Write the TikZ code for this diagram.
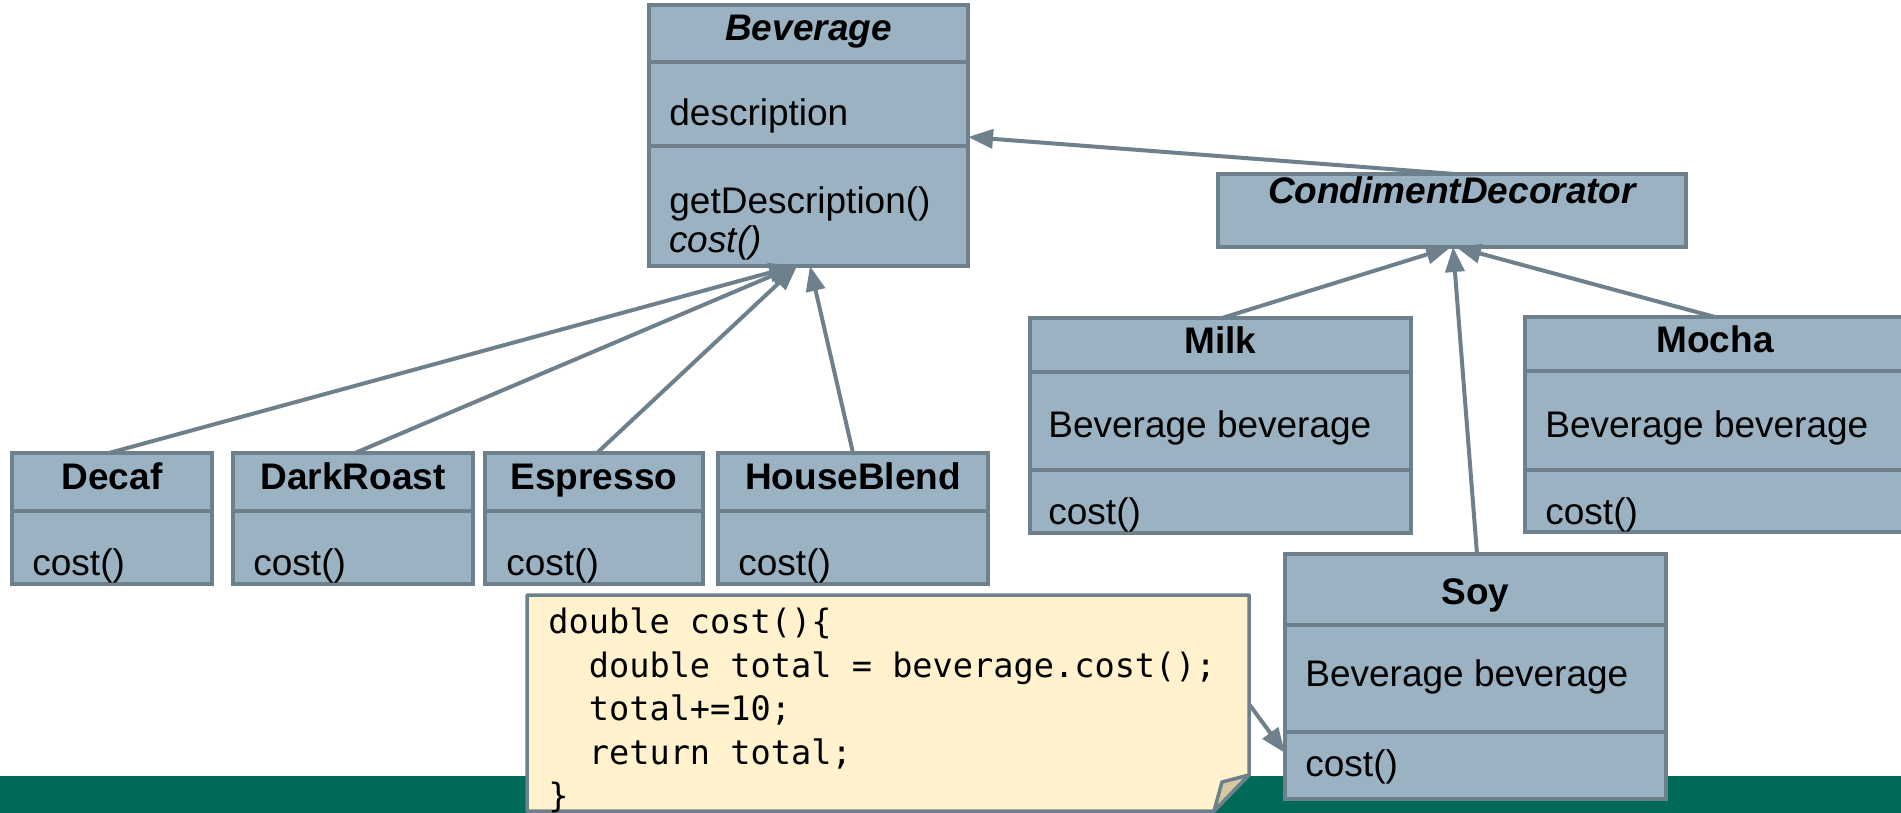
\documentclass[tikz,border=0pt]{standalone}
\usepackage{fontspec}
\setmainfont{Liberation Sans}
\newfontfamily\codefont{DejaVu Sans Mono}
\usetikzlibrary{arrows.meta}
\definecolor{boxfill}{RGB}{154,178,194}
\definecolor{boxline}{RGB}{110,128,139}
\definecolor{notefill}{RGB}{255,242,204}
\definecolor{flapfill}{RGB}{214,200,162}
\definecolor{band}{RGB}{0,106,88}
\begin{document}
\begin{tikzpicture}[x=0.5pt,y=-0.5pt,
  umlbox/.style={draw=boxline,fill=boxfill,line width=1.75pt,anchor=north west,inner sep=0pt,outer sep=0pt},
  txt/.style={font=\fontsize{18.5}{22}\selectfont,inner sep=0pt,anchor=west},
  ttl/.style={font=\fontsize{18.5}{22}\selectfont\bfseries,inner sep=0pt,anchor=base},
  ittl/.style={font=\fontsize{18.5}{22}\selectfont\bfseries\itshape,inner sep=0pt,anchor=base},
  code/.style={font=\codefont\fontsize{16.8}{22}\selectfont,inner sep=0pt,anchor=base west},
  divider/.style={draw=boxline,line width=1.75pt},
  inherit/.style={draw=boxline,line width=2pt,-{Triangle[length=12.5pt,width=9.5pt]}}]

\useasboundingbox (0,0) rectangle (1901,813);
\fill[band] (0,776) rectangle (1901,813);

% Beverage
\node[umlbox,minimum width=159.5pt,minimum height=130.5pt] (bev) at (649,5) {};
\draw[divider] (bev.west |- 0,62) -- (bev.east |- 0,62);
\draw[divider] (bev.west |- 0,146) -- (bev.east |- 0,146);
\node[ittl] (bevt) at (bev.north |- 0,41) {Beverage};
\node[txt] (beva) at (669,116) {description};
\node[txt] (bevm1) at (669,204) {getDescription()};
\node[txt,font=\fontsize{18.5}{22}\selectfont\itshape] (bevm2) at (669,243) {cost()};

% CondimentDecorator
\node[umlbox,minimum width=234pt,minimum height=36.5pt] (cd) at (1218,174) {};
\node[ittl] (cdt) at (cd.north |- 0,203) {CondimentDecorator};

% Milk
\node[umlbox,minimum width=190.5pt,minimum height=107.5pt] (milk) at (1030,318) {};
\draw[divider] (milk.west |- 0,372) -- (milk.east |- 0,372);
\draw[divider] (milk.west |- 0,470) -- (milk.east |- 0,470);
\node[ttl] (milkt) at (milk.north |- 0,353) {Milk};
\node[txt] (milka) at (1048,428) {Beverage beverage};
\node[txt] (milkm) at (1048,515) {cost()};

% Mocha
\node[umlbox,minimum width=190pt,minimum height=107.5pt] (mocha) at (1525,317) {};
\draw[divider] (mocha.west |- 0,371) -- (mocha.east |- 0,371);
\draw[divider] (mocha.west |- 0,470) -- (mocha.east |- 0,470);
\node[ttl] (mochat) at (mocha.north |- 0,352) {Mocha};
\node[txt] (mochaa) at (1545,428) {Beverage beverage};
\node[txt] (mocham) at (1545,515) {cost()};

% Soy
\node[umlbox,minimum width=190.5pt,minimum height=122.5pt] (soy) at (1285,554) {};
\draw[divider] (soy.west |- 0,625) -- (soy.east |- 0,625);
\draw[divider] (soy.west |- 0,732) -- (soy.east |- 0,732);
\node[ttl] (soyt) at (soy.north |- 0,604) {Soy};
\node[txt] (soya) at (1305,677) {Beverage beverage};
\node[txt] (soym) at (1305,767) {cost()};

% bottom row
\node[umlbox,minimum width=100pt,minimum height=65.5pt] (decaf) at (12,453) {};
\draw[divider] (decaf.west |- 0,511) -- (decaf.east |- 0,511);
\node[ttl] (decaft) at (decaf.north |- 0,489) {Decaf};
\node[txt] (decafm) at (32,566) {cost()};

\node[umlbox,minimum width=120pt,minimum height=65.5pt] (dark) at (233,453) {};
\draw[divider] (dark.west |- 0,511) -- (dark.east |- 0,511);
\node[ttl] (darkt) at (dark.north |- 0,489) {DarkRoast};
\node[txt] (darkm) at (253,566) {cost()};

\node[umlbox,minimum width=109pt,minimum height=65.5pt] (esp) at (485,453) {};
\draw[divider] (esp.west |- 0,511) -- (esp.east |- 0,511);
\node[ttl] (espt) at (esp.north |- 0,489) {Espresso};
\node[txt] (espm) at (506,566) {cost()};

\node[umlbox,minimum width=135pt,minimum height=65.5pt] (house) at (718,453) {};
\draw[divider] (house.west |- 0,511) -- (house.east |- 0,511);
\node[ttl] (houset) at (house.north |- 0,489) {HouseBlend};
\node[txt] (housem) at (738,566) {cost()};

% inheritance arrows
\draw[inherit] (decaf.north -| 109,0) -- (bev.south -| 794,0);
\draw[inherit] (dark.north -| 355,0) -- (bev.south -| 795,0);
\draw[inherit] (esp.north -| 597,0) -- (bev.south -| 797,0);
\draw[inherit] (house.north -| 853,0) -- (bev.south -| 810,0);
\draw[inherit] (cd.north -| 1455,0) -- (bev.east |- 0,137);
\draw[inherit] (milk.north -| 1222,0) -- (cd.south -| 1451,0);
\draw[inherit] (soy.north -| 1477,0) -- (cd.south -| 1453,0);
\draw[inherit] (mocha.north -| 1715,0) -- (cd.south -| 1456,0);

% note
\node[inner sep=0pt,outer sep=0pt,minimum width=361pt,minimum height=108pt,anchor=north west] (note) at (527,595) {};
\draw[draw=boxline,fill=notefill,line width=1.75pt,line join=round]
  (note.north west) -- (note.north east) -- (note.east |- 0,775) -- (1214,811) -- (note.south west) -- cycle;
\draw[draw=boxline,fill=flapfill,line width=1.75pt,line join=round]
  (1214,811) -- (1222,782) -- (note.east |- 0,775) -- cycle;
\node[code] (c1) at (548,633) {double cost()\{};
\node[code] (c2) at (548,677) {\phantom{dd}double total = beverage.cost();};
\node[code] (c3) at (548,720) {\phantom{dd}total+=10;};
\node[code] (c4) at (548,764) {\phantom{dd}return total;};
\node[code] (c5) at (548,807) {\}};
\draw[inherit] (note.east |- 0,704) -- (soy.west |- 0,753);
\end{tikzpicture}
\end{document}
